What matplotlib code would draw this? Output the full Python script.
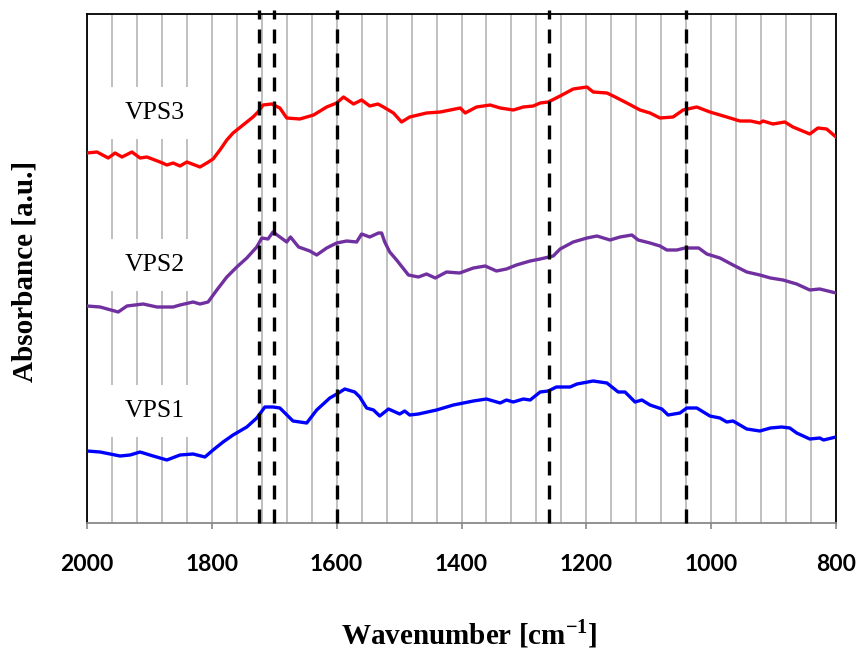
import matplotlib
matplotlib.use('Agg')
import matplotlib.pyplot as plt
from matplotlib.ticker import MultipleLocator

# FTIR spectra, offset vertically (arbitrary units)
wn_vps3 = [2000, 1984, 1966, 1955, 1944, 1928, 1915, 1904, 1883, 1872, 1862, 1851, 1840, 1819, 1808,
           1798, 1787, 1776, 1766, 1750, 1734, 1726, 1718, 1704, 1691, 1680, 1659, 1637, 1616, 1600,
           1589, 1573, 1560, 1547, 1534, 1525, 1509, 1496, 1483, 1456, 1434, 1418, 1402, 1394, 1376,
           1354, 1338, 1317, 1301, 1285, 1274, 1261, 1242, 1221, 1199, 1189, 1167, 1157, 1135, 1114,
           1098, 1082, 1061, 1045, 1023, 1002, 975, 954, 937, 922, 917, 901, 882, 869, 842,
           829, 815, 800]
abs_vps3 = [3.70, 3.71, 3.65, 3.70, 3.66, 3.71, 3.65, 3.66, 3.61, 3.58, 3.60, 3.57, 3.61, 3.56, 3.60,
            3.64, 3.73, 3.83, 3.90, 3.98, 4.06, 4.11, 4.18, 4.19, 4.15, 4.05, 4.04, 4.08, 4.16, 4.20,
            4.26, 4.19, 4.23, 4.17, 4.19, 4.16, 4.10, 4.01, 4.06, 4.10, 4.11, 4.13, 4.15, 4.10, 4.16,
            4.18, 4.15, 4.13, 4.16, 4.17, 4.20, 4.21, 4.27, 4.34, 4.36, 4.31, 4.30, 4.27, 4.20, 4.13,
            4.10, 4.05, 4.06, 4.13, 4.16, 4.11, 4.06, 4.02, 4.02, 4.00, 4.02, 3.99, 4.01, 3.96, 3.89,
            3.95, 3.94, 3.86]

wn_vps2 = [2000, 1979, 1950, 1936, 1910, 1888, 1862, 1851, 1830, 1819, 1806, 1792, 1776, 1760, 1744,
           1728, 1720, 1710, 1702, 1691, 1680, 1674, 1661, 1643, 1632, 1616, 1600, 1584, 1568, 1560,
           1547, 1533, 1528, 1523, 1515, 1504, 1485, 1469, 1456, 1442, 1424, 1403, 1381, 1362, 1344,
           1328, 1312, 1290, 1274, 1253, 1242, 1221, 1199, 1183, 1162, 1146, 1127, 1117, 1098, 1082,
           1071, 1055, 1042, 1020, 1007, 986, 965, 943, 922, 905, 885, 863, 842, 826, 800]
abs_vps2 = [2.17, 2.16, 2.11, 2.17, 2.19, 2.16, 2.16, 2.18, 2.21, 2.19, 2.21, 2.33, 2.46, 2.56, 2.65,
            2.76, 2.85, 2.84, 2.91, 2.86, 2.81, 2.86, 2.76, 2.72, 2.68, 2.75, 2.80, 2.82, 2.81, 2.89,
            2.86, 2.90, 2.90, 2.81, 2.71, 2.63, 2.48, 2.46, 2.49, 2.45, 2.51, 2.50, 2.55, 2.57, 2.52,
            2.54, 2.58, 2.62, 2.64, 2.67, 2.74, 2.81, 2.85, 2.87, 2.83, 2.86, 2.88, 2.83, 2.80, 2.77,
            2.73, 2.73, 2.75, 2.75, 2.69, 2.65, 2.58, 2.51, 2.48, 2.45, 2.43, 2.39, 2.33, 2.34, 2.30]

wn_vps1 = [2000, 1979, 1947, 1931, 1915, 1894, 1872, 1851, 1830, 1811, 1798, 1782, 1766, 1744, 1728,
           1715, 1702, 1691, 1670, 1648, 1632, 1611, 1597, 1587, 1571, 1563, 1552, 1541, 1531, 1517,
           1499, 1491, 1483, 1469, 1440, 1413, 1381, 1360, 1338, 1328, 1317, 1301, 1290, 1274, 1261,
           1248, 1226, 1215, 1189, 1167, 1149, 1138, 1122, 1111, 1098, 1079, 1069, 1050, 1039, 1023,
           1002, 986, 975, 965, 943, 922, 905, 887, 874, 863, 842, 826, 820, 800]
abs_vps1 = [0.72, 0.71, 0.67, 0.68, 0.71, 0.67, 0.63, 0.68, 0.69, 0.66, 0.73, 0.81, 0.88, 0.96, 1.05,
            1.16, 1.16, 1.15, 1.02, 1.00, 1.13, 1.25, 1.30, 1.34, 1.31, 1.26, 1.15, 1.13, 1.07, 1.14,
            1.09, 1.12, 1.08, 1.09, 1.13, 1.18, 1.22, 1.24, 1.20, 1.23, 1.21, 1.24, 1.23, 1.31, 1.32,
            1.36, 1.36, 1.39, 1.42, 1.40, 1.31, 1.31, 1.21, 1.23, 1.18, 1.14, 1.08, 1.10, 1.15, 1.15,
            1.07, 1.05, 1.01, 1.02, 0.94, 0.92, 0.95, 0.96, 0.95, 0.90, 0.84, 0.85, 0.83, 0.86]

# characteristic band positions marked with dashed lines
bands = [1724, 1700, 1600, 1260, 1040]

labels = ['VPS3', 'VPS2', 'VPS1']
label_y = [4.10, 2.58, 1.12]
label_x = 1891

fig = plt.figure(figsize=(8.58, 6.54), dpi=100)
ax = fig.add_axes([87/858, 131/654, 749/858, 509/654])

ax.xaxis.set_major_locator(MultipleLocator(200))
ax.xaxis.set_minor_locator(MultipleLocator(40))
ax.grid(True, which='both', axis='x', color='#c0c0c0', lw=1.4, zorder=0)
ax.set_axisbelow(True)

ax.plot(wn_vps3, abs_vps3, color='#ff0000', lw=2.4, zorder=3)
ax.plot(wn_vps2, abs_vps2, color='#7030a0', lw=2.4, zorder=3)
ax.plot(wn_vps1, abs_vps1, color='#0000ff', lw=2.4, zorder=3)

for b in bands:
    ax.axvline(b, ymin=0, ymax=1.008, color='black', lw=2.4, dashes=(4.2, 3.0),
               dash_capstyle='butt', clip_on=False, zorder=4)

for lab, y in zip(labels, label_y):
    ax.text(label_x, y, lab, fontsize=18.5, family='Liberation Serif', ha='center', va='center',
            bbox=dict(boxstyle='square,pad=0.6', fc='white', ec='none'), zorder=2)

ax.set_xlim(2000, 800)
ax.set_ylim(0, 5.09)
ax.set_yticks([])

for side in ['top', 'left', 'right']:
    ax.spines[side].set_color('black')
    ax.spines[side].set_linewidth(1.3)
ax.spines['bottom'].set_color('#898989')
ax.spines['bottom'].set_linewidth(1.3)

ax.tick_params(axis='x', which='major', direction='out', length=4.5, width=1.2,
               color='#898989', pad=18)
ax.tick_params(axis='x', which='minor', length=0)
for t in ax.get_xticklabels():
    t.set_fontfamily(['Lato', 'DejaVu Sans'])
    t.set_fontweight('bold')
    t.set_fontsize(16.5)

ax.set_xlabel('Wavenumber [cm$^{\\mathregular{-1}}$]', fontsize=21, fontweight='bold',
              family='Liberation Serif', va='center')
ax.xaxis.set_label_coords(0.511, -0.218)
ax.set_ylabel('Absorbance [a.u.]', fontsize=21, fontweight='bold',
              family='Liberation Serif', va='center')
ax.yaxis.set_label_coords(-0.083, 0.495)

fig.savefig('out.png', dpi=100)
